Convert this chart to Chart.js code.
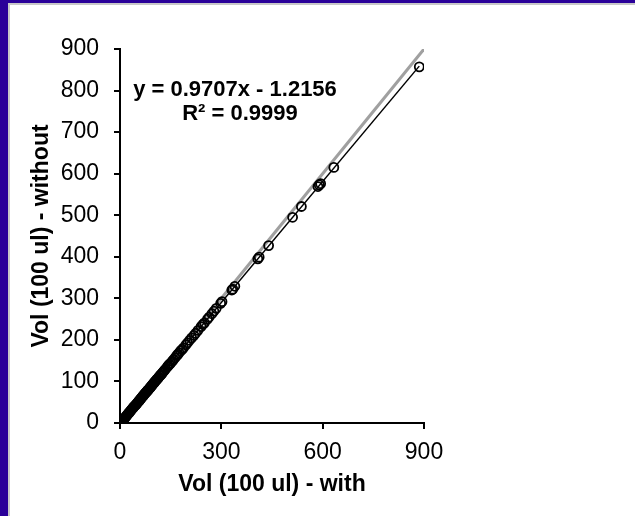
<!DOCTYPE html>
<html>
<head>
<meta charset="utf-8">
<script src="https://cdn.jsdelivr.net/npm/chart.js@4"></script>
<style>
  body { margin: 0; width: 635px; height: 516px; background: #2a0099; position: relative; overflow: hidden; }
  #edge { position: absolute; left: 8px; top: 3px; width: 627px; height: 513px; background: #c8c8c8; }
  #panel { position: absolute; left: 10px; top: 5px; width: 625px; height: 511px; background: #fff; }
</style>
</head>
<body>
<div id="edge"></div>
<div id="panel"><canvas id="volChart" width="625" height="511"></canvas></div>
<script>
// volume with vs. without, 100 ul
var withVals = [886, 633, 594, 590, 586, 537, 511, 440, 412, 408, 340, 334, 331, 302, 298, 285, 278, 272, 264, 259,
    250, 245, 240, 231, 224, 219, 212, 206, 200, 195, 188, 184, 180, 175, 171, 168, 163, 158, 154, 150,
    146, 143, 140, 135, 132, 130, 127, 125, 122, 120, 118, 115, 113, 111, 109, 107, 105, 103, 101, 99,
    97, 95, 93, 91, 89, 87, 85, 83, 81, 79, 77, 75, 73, 71, 69, 67, 65, 63, 61, 59,
    57, 55, 53, 51, 49, 47, 45, 43, 41, 39, 37, 35, 33, 31, 29, 27, 25, 23, 21, 19,
    17, 15, 13, 11, 9, 7, 5, 3, 2, 1];
var withoutVals = [857, 615, 576, 573, 569, 521, 495, 427, 399, 395, 329, 322, 320, 292, 288, 276, 269, 263, 255, 250,
    241, 237, 232, 223, 216, 211, 205, 199, 193, 188, 181, 177, 174, 169, 165, 162, 157, 152, 148, 144,
    141, 138, 135, 130, 127, 125, 122, 120, 117, 115, 114, 110, 109, 106, 105, 103, 101, 99, 97, 95,
    93, 91, 89, 87, 85, 83, 81, 79, 78, 75, 74, 72, 70, 68, 66, 64, 62, 60, 58, 56,
    54, 52, 50, 48, 46, 44, 42, 41, 39, 37, 35, 33, 31, 29, 27, 25, 23, 21, 19, 17,
    15, 13, 11, 10, 8, 6, 4, 2, 1, 0];
var xTicks = [0, 300, 600, 900];
var yTicks = [0, 100, 200, 300, 400, 500, 600, 700, 800, 900];

// trendline
var slope = 0.9707;
var intercept = -1.2156;
var rSquared = 0.9999;

var fontFam = "'Liberation Sans', Arial, sans-serif";

var points = [];
for (var i = 0; i < withVals.length; i++) {
    points.push({ x: withVals[i], y: withoutVals[i] });
}
var xMin = Math.min.apply(null, withVals);
var xMax = Math.max.apply(null, withVals);
var trend = [
    { x: xMin, y: slope * xMin + intercept },
    { x: xMax, y: slope * xMax + intercept }
];
// 1:1 reference line
var unity = [{ x: 0, y: 0 }, { x: 900, y: 900 }];

var equationLabel = {
    id: 'equationLabel',
    afterDatasetsDraw: function(chart) {
        var c = chart.ctx;
        var a = chart.chartArea;
        c.save();
        c.fillStyle = '#000';
        c.font = 'bold 22px ' + fontFam;
        c.textAlign = 'center';
        c.textBaseline = 'middle';
        var sign = intercept < 0 ? ' - ' : ' + ';
        c.fillText('y = ' + slope.toFixed(4) + 'x' + sign + Math.abs(intercept).toFixed(4), a.left + 115, a.top + 41);
        c.fillText('R\u00b2 = ' + rSquared.toFixed(4), a.left + 120, a.top + 65);
        c.restore();
    }
};

var ctx = document.getElementById("volChart").getContext('2d');
var volChart = new Chart(ctx, {
    type: 'scatter',
    data: {
        datasets: [{
            label: '1:1',
            type: 'line',
            data: unity,
            borderColor: '#a0a0a0',
            borderWidth: 3,
            pointRadius: 0,
            order: 3
        }, {
            label: 'Linear',
            type: 'line',
            data: trend,
            borderColor: '#000',
            borderWidth: 1.5,
            pointRadius: 0,
            order: 2
        }, {
            label: 'Vol',
            data: points,
            pointRadius: 4.5,
            pointBorderWidth: 1.8,
            pointBorderColor: '#000',
            pointBackgroundColor: 'rgba(0,0,0,0)',
            order: 1
        }]
    },
    options: {
        responsive: false,
        animation: false,
        layout: { padding: { left: 0, top: 44, right: 211, bottom: 0 } },
        plugins: { legend: { display: false }, tooltip: { enabled: false } },
        scales: {
            x: {
                type: 'linear',
                min: 0,
                max: 900,
                afterFit: function(scale) { scale.height = 93; },
                afterBuildTicks: function(scale) { scale.ticks = xTicks.map(function(v) { return { value: v }; }); },
                ticks: { color: '#000', font: { family: fontFam, size: 23 }, padding: 10, maxRotation: 0 },
                grid: { drawOnChartArea: false, drawTicks: true, tickLength: 6, color: '#000', lineWidth: 2 },
                border: { display: true, color: '#000', width: 2 },
                title: { display: true, text: 'Vol (100 ul) - with', color: '#000',
                    font: { family: fontFam, size: 23, weight: 'bold' }, padding: { top: 0, bottom: 18 } }
            },
            y: {
                type: 'linear',
                min: 0,
                max: 900,
                afterFit: function(scale) { scale.width = 110; },
                afterBuildTicks: function(scale) { scale.ticks = yTicks.map(function(v) { return { value: v }; }); },
                ticks: { color: '#000', font: { family: fontFam, size: 23 }, padding: 15 },
                grid: { drawOnChartArea: false, drawTicks: true, tickLength: 6, color: '#000', lineWidth: 2 },
                border: { display: true, color: '#000', width: 2 },
                title: { display: true, text: 'Vol (100 ul) - without', color: '#000',
                    font: { family: fontFam, size: 23, weight: 'bold' }, padding: { top: 18, bottom: 0 } }
            }
        }
    },
    plugins: [equationLabel]
});
</script>
</body>
</html>
